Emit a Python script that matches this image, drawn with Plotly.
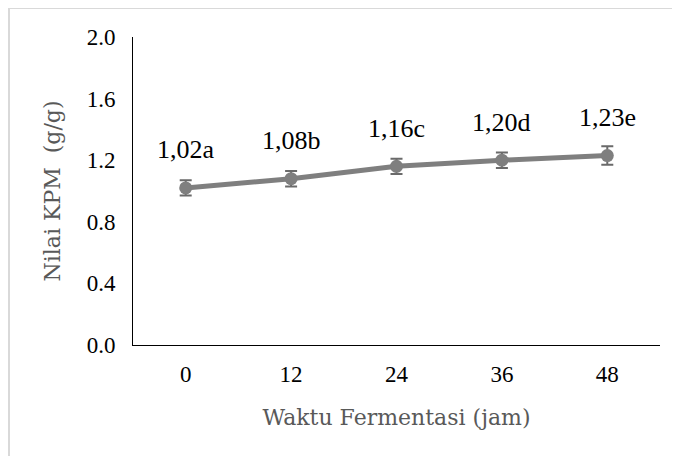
import plotly.graph_objects as go

waktu = ["0", "12", "24", "36", "48"]
kpm = [1.02, 1.08, 1.16, 1.20, 1.23]
err = [0.05, 0.05, 0.05, 0.05, 0.06]
labels = ["1,02a", "1,08b", "1,16c", "1,20d", "1,23e"]
y_ticks = [0.0, 0.4, 0.8, 1.2, 1.6, 2.0]

GRAY = "#7f7f7f"
SERIF = "Liberation Serif"

fig = go.Figure()
fig.add_trace(go.Scatter(
    x=waktu, y=kpm, mode="lines+markers",
    line=dict(color=GRAY, width=5),
    marker=dict(color=GRAY, size=13),
    error_y=dict(type="data", array=err, visible=True,
                 color="#6a6a6a", thickness=2, width=6),
    showlegend=False,
))

for i, (yv, t) in enumerate(zip(kpm, labels)):
    fig.add_annotation(x=i, y=yv, text=t, showarrow=False,
                       yanchor="middle", yshift=38,
                       font=dict(family=SERIF, size=26, color="#000000"))

# outer chart frame (light gray)
fig.add_shape(type="rect", xref="paper", yref="paper",
              x0=-0.2353, x1=1.1, y0=-0.5, y1=1.094,
              line=dict(color="#d9d9d9", width=2), fillcolor="rgba(0,0,0,0)",
              layer="below")

fig.update_layout(
    width=672, height=448,
    margin=dict(l=125, r=20, t=29, b=111),
    paper_bgcolor="white", plot_bgcolor="white",
    font=dict(family=SERIF, color="#000000"),
    xaxis=dict(
        type="category", range=[-0.5, 4.5],
        showline=True, linecolor="#000000", linewidth=1,
        showgrid=False, zeroline=False, ticks="",
        tickfont=dict(family=SERIF, size=23, color="#000000"),
        ticklabelstandoff=8,
        title=dict(text="Waktu Fermentasi (jam)", standoff=24,
                   font=dict(family="DejaVu Serif", size=22, color="#595959")),
    ),
    yaxis=dict(
        range=[0, 2.0], tickvals=y_ticks, tickformat=".1f",
        showline=True, linecolor="#000000", linewidth=1,
        showgrid=False, zeroline=False, ticks="",
        tickfont=dict(family=SERIF, size=23, color="#000000"),
        ticklabelstandoff=12,
        title=dict(text="Nilai KPM \u00a0(g/g)", standoff=19,
                   font=dict(family="DejaVu Serif", size=22, color="#595959")),
    ),
)

fig.write_html("out.html")
